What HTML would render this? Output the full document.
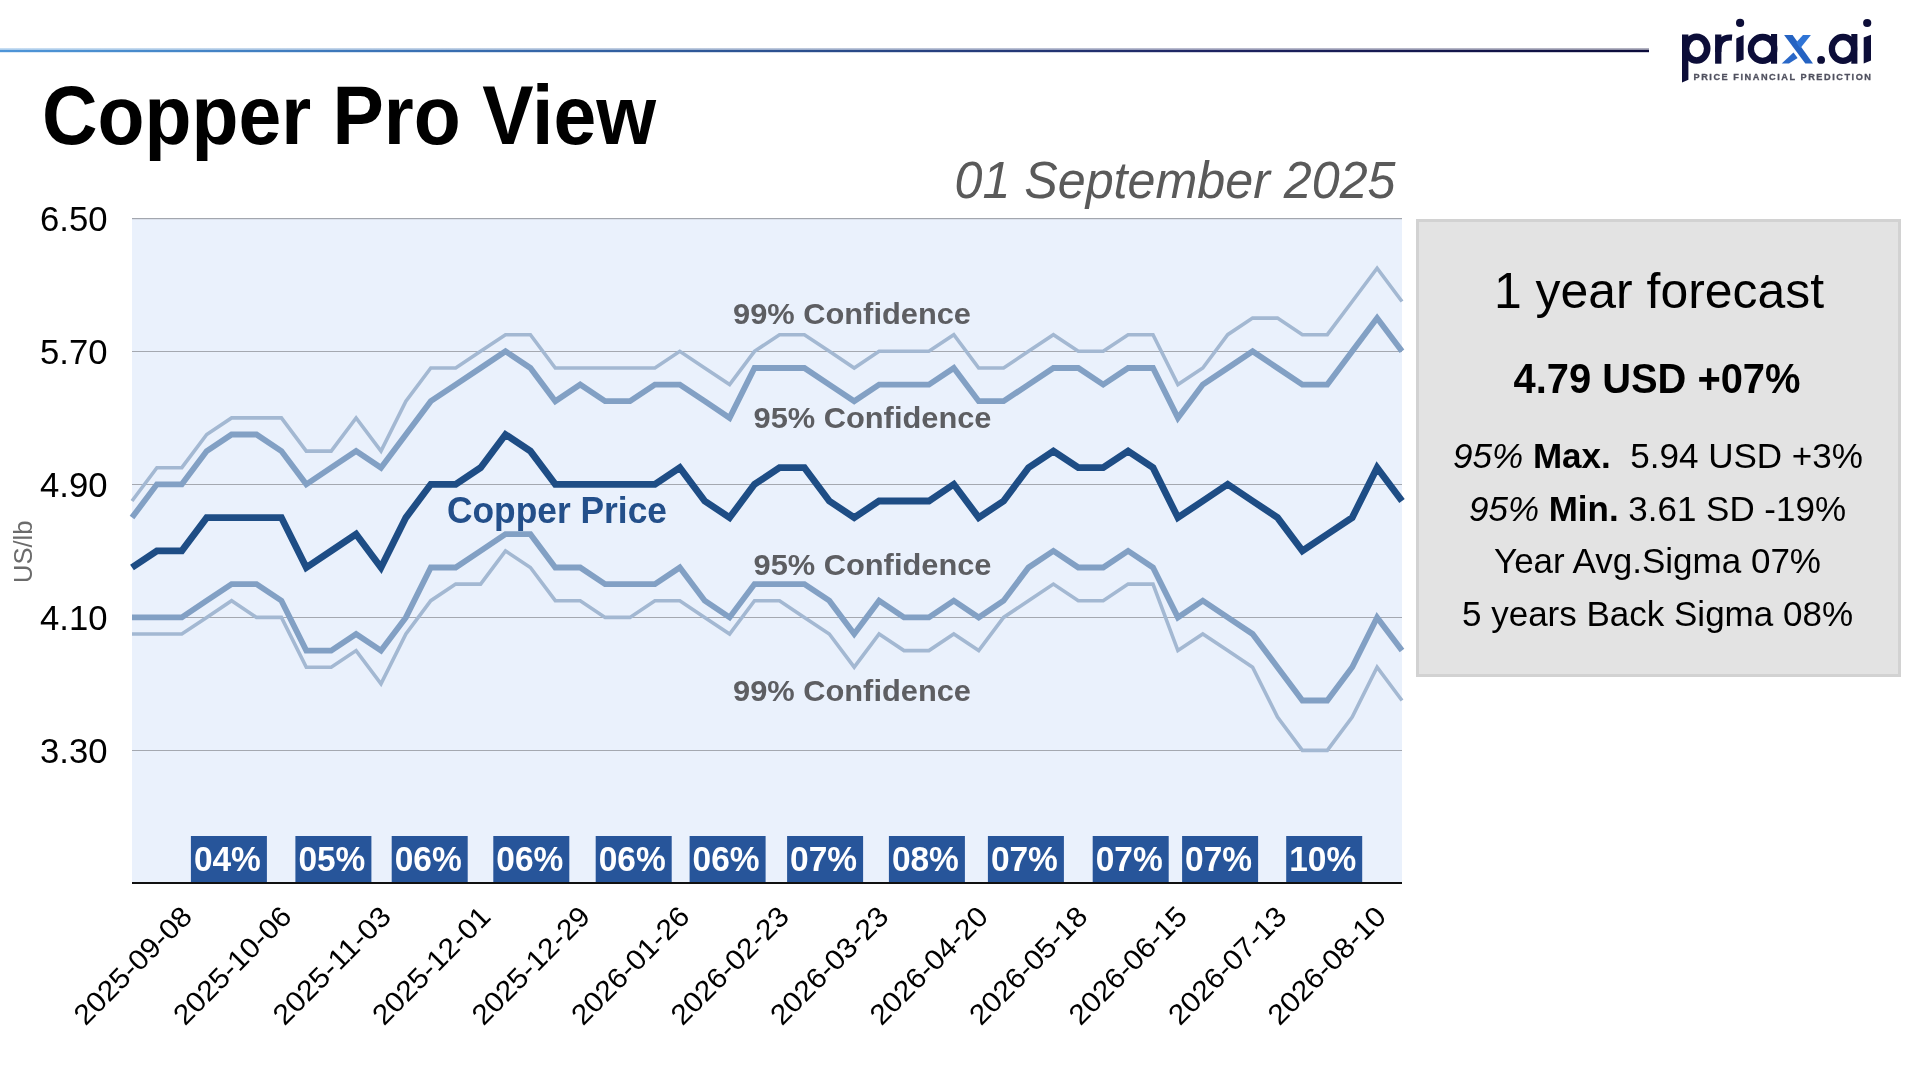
<!DOCTYPE html>
<html><head><meta charset="utf-8"><style>
html,body{margin:0;padding:0;background:#fff;}
body{width:1920px;height:1080px;position:relative;overflow:hidden;}
svg{position:absolute;left:0;top:0;font-family:"Liberation Sans",sans-serif;will-change:transform;}
</style></head><body>
<svg width="1920" height="1080" viewBox="0 0 1920 1080">
<defs><clipPath id="pc"><rect x="132" y="200" width="1270" height="700"/></clipPath><linearGradient id="tg" x1="0" x2="1" y1="0" y2="0"><stop offset="0" stop-color="#4e95d8"/><stop offset="0.06" stop-color="#4a8ecf"/><stop offset="0.24" stop-color="#3a72b5"/><stop offset="0.485" stop-color="#2b4f8e"/><stop offset="0.73" stop-color="#1e2462"/><stop offset="1" stop-color="#0b0b3a"/></linearGradient></defs>
<rect x="0" y="48.3" width="1649" height="1.8" fill="url(#tg)" opacity="0.45"/>
<rect x="0" y="50" width="1649" height="2.2" fill="url(#tg)"/>
<rect x="132" y="218" width="1270" height="665" fill="#eaf1fc"/>
<rect x="132" y="218" width="1270" height="1.2" fill="#a2a6ae"/>
<rect x="132" y="351" width="1270" height="1" fill="#a4a8b0"/>
<rect x="132" y="484" width="1270" height="1" fill="#a4a8b0"/>
<rect x="132" y="617" width="1270" height="1" fill="#a4a8b0"/>
<rect x="132" y="750" width="1270" height="1" fill="#a4a8b0"/>
<polyline points="132.0,501.0 156.9,467.7 181.8,467.7 206.7,434.5 231.6,417.9 256.5,417.9 281.4,417.9 306.3,451.1 331.2,451.1 356.1,417.9 381.0,451.1 405.9,401.2 430.8,368.0 455.7,368.0 480.6,351.3 505.5,334.7 530.4,334.7 555.3,368.0 580.2,368.0 605.1,368.0 630.0,368.0 654.9,368.0 679.8,351.3 704.7,368.0 729.6,384.6 754.5,351.3 779.5,334.7 804.4,334.7 829.3,351.3 854.2,368.0 879.1,351.3 904.0,351.3 928.9,351.3 953.8,334.7 978.7,368.0 1003.6,368.0 1028.5,351.3 1053.4,334.7 1078.3,351.3 1103.2,351.3 1128.1,334.7 1153.0,334.7 1177.9,384.6 1202.8,368.0 1227.7,334.7 1252.6,318.1 1277.5,318.1 1302.4,334.7 1327.3,334.7 1352.2,301.5 1377.1,268.2 1402.0,301.5" fill="none" stroke="#a3b8d2" stroke-width="3.6" stroke-linejoin="miter" stroke-miterlimit="4"/>
<polyline points="132.0,634.0 156.9,634.0 181.8,634.0 206.7,617.4 231.6,600.7 256.5,617.4 281.4,617.4 306.3,667.2 331.2,667.2 356.1,650.6 381.0,683.8 405.9,634.0 430.8,600.7 455.7,584.1 480.6,584.1 505.5,550.9 530.4,567.5 555.3,600.7 580.2,600.7 605.1,617.4 630.0,617.4 654.9,600.7 679.8,600.7 704.7,617.4 729.6,634.0 754.5,600.7 779.5,600.7 804.4,617.4 829.3,634.0 854.2,667.2 879.1,634.0 904.0,650.6 928.9,650.6 953.8,634.0 978.7,650.6 1003.6,617.4 1028.5,600.7 1053.4,584.1 1078.3,600.7 1103.2,600.7 1128.1,584.1 1153.0,584.1 1177.9,650.6 1202.8,634.0 1227.7,650.6 1252.6,667.2 1277.5,717.1 1302.4,750.4 1327.3,750.4 1352.2,717.1 1377.1,667.2 1402.0,700.5" fill="none" stroke="#a3b8d2" stroke-width="3.6" stroke-linejoin="miter" stroke-miterlimit="4"/>
<polyline points="132.0,517.6 156.9,484.3 181.8,484.3 206.7,451.1 231.6,434.5 256.5,434.5 281.4,451.1 306.3,484.3 331.2,467.7 356.1,451.1 381.0,467.7 405.9,434.5 430.8,401.2 455.7,384.6 480.6,368.0 505.5,351.3 530.4,368.0 555.3,401.2 580.2,384.6 605.1,401.2 630.0,401.2 654.9,384.6 679.8,384.6 704.7,401.2 729.6,417.9 754.5,368.0 779.5,368.0 804.4,368.0 829.3,384.6 854.2,401.2 879.1,384.6 904.0,384.6 928.9,384.6 953.8,368.0 978.7,401.2 1003.6,401.2 1028.5,384.6 1053.4,368.0 1078.3,368.0 1103.2,384.6 1128.1,368.0 1153.0,368.0 1177.9,417.9 1202.8,384.6 1227.7,368.0 1252.6,351.3 1277.5,368.0 1302.4,384.6 1327.3,384.6 1352.2,351.3 1377.1,318.1 1402.0,351.3" fill="none" stroke="#82a0c4" stroke-width="5.8" stroke-linejoin="miter" stroke-miterlimit="4"/>
<polyline points="132.0,617.4 156.9,617.4 181.8,617.4 206.7,600.7 231.6,584.1 256.5,584.1 281.4,600.7 306.3,650.6 331.2,650.6 356.1,634.0 381.0,650.6 405.9,617.4 430.8,567.5 455.7,567.5 480.6,550.9 505.5,534.2 530.4,534.2 555.3,567.5 580.2,567.5 605.1,584.1 630.0,584.1 654.9,584.1 679.8,567.5 704.7,600.7 729.6,617.4 754.5,584.1 779.5,584.1 804.4,584.1 829.3,600.7 854.2,634.0 879.1,600.7 904.0,617.4 928.9,617.4 953.8,600.7 978.7,617.4 1003.6,600.7 1028.5,567.5 1053.4,550.9 1078.3,567.5 1103.2,567.5 1128.1,550.9 1153.0,567.5 1177.9,617.4 1202.8,600.7 1227.7,617.4 1252.6,634.0 1277.5,667.2 1302.4,700.5 1327.3,700.5 1352.2,667.2 1377.1,617.4 1402.0,650.6" fill="none" stroke="#82a0c4" stroke-width="5.8" stroke-linejoin="miter" stroke-miterlimit="4"/>
<polyline points="132.0,567.5 156.9,550.9 181.8,550.9 206.7,517.6 231.6,517.6 256.5,517.6 281.4,517.6 306.3,567.5 331.2,550.9 356.1,534.2 381.0,567.5 405.9,517.6 430.8,484.3 455.7,484.3 480.6,467.7 505.5,434.5 530.4,451.1 555.3,484.3 580.2,484.3 605.1,484.3 630.0,484.3 654.9,484.3 679.8,467.7 704.7,501.0 729.6,517.6 754.5,484.3 779.5,467.7 804.4,467.7 829.3,501.0 854.2,517.6 879.1,501.0 904.0,501.0 928.9,501.0 953.8,484.3 978.7,517.6 1003.6,501.0 1028.5,467.7 1053.4,451.1 1078.3,467.7 1103.2,467.7 1128.1,451.1 1153.0,467.7 1177.9,517.6 1202.8,501.0 1227.7,484.3 1252.6,501.0 1277.5,517.6 1302.4,550.9 1327.3,534.2 1352.2,517.6 1377.1,467.7 1402.0,501.0" fill="none" stroke="#1e4d85" stroke-width="6.8" stroke-linejoin="miter" stroke-miterlimit="4"/>
<rect x="132" y="882" width="1270" height="2" fill="#111"/>
<rect x="190.9" y="836" width="76" height="46" fill="#27559a"/>
<text x="193.9" y="871.4" font-size="34.7" font-weight="bold" textLength="67" lengthAdjust="spacingAndGlyphs" fill="#fff">04%</text>
<rect x="295.4" y="836" width="76" height="46" fill="#27559a"/>
<text x="298.4" y="871.4" font-size="34.7" font-weight="bold" textLength="67" lengthAdjust="spacingAndGlyphs" fill="#fff">05%</text>
<rect x="391.7" y="836" width="76" height="46" fill="#27559a"/>
<text x="394.7" y="871.4" font-size="34.7" font-weight="bold" textLength="67" lengthAdjust="spacingAndGlyphs" fill="#fff">06%</text>
<rect x="493.3" y="836" width="76" height="46" fill="#27559a"/>
<text x="496.3" y="871.4" font-size="34.7" font-weight="bold" textLength="67" lengthAdjust="spacingAndGlyphs" fill="#fff">06%</text>
<rect x="595.7" y="836" width="76" height="46" fill="#27559a"/>
<text x="598.7" y="871.4" font-size="34.7" font-weight="bold" textLength="67" lengthAdjust="spacingAndGlyphs" fill="#fff">06%</text>
<rect x="689.6" y="836" width="76" height="46" fill="#27559a"/>
<text x="692.6" y="871.4" font-size="34.7" font-weight="bold" textLength="67" lengthAdjust="spacingAndGlyphs" fill="#fff">06%</text>
<rect x="787.1" y="836" width="76" height="46" fill="#27559a"/>
<text x="790.1" y="871.4" font-size="34.7" font-weight="bold" textLength="67" lengthAdjust="spacingAndGlyphs" fill="#fff">07%</text>
<rect x="888.9" y="836" width="76" height="46" fill="#27559a"/>
<text x="891.9" y="871.4" font-size="34.7" font-weight="bold" textLength="67" lengthAdjust="spacingAndGlyphs" fill="#fff">08%</text>
<rect x="987.9" y="836" width="76" height="46" fill="#27559a"/>
<text x="990.9" y="871.4" font-size="34.7" font-weight="bold" textLength="67" lengthAdjust="spacingAndGlyphs" fill="#fff">07%</text>
<rect x="1092.7" y="836" width="76" height="46" fill="#27559a"/>
<text x="1095.7" y="871.4" font-size="34.7" font-weight="bold" textLength="67" lengthAdjust="spacingAndGlyphs" fill="#fff">07%</text>
<rect x="1182.1" y="836" width="76" height="46" fill="#27559a"/>
<text x="1185.1" y="871.4" font-size="34.7" font-weight="bold" textLength="67" lengthAdjust="spacingAndGlyphs" fill="#fff">07%</text>
<rect x="1286.2" y="836" width="76" height="46" fill="#27559a"/>
<text x="1289.2" y="871.4" font-size="34.7" font-weight="bold" textLength="67" lengthAdjust="spacingAndGlyphs" fill="#fff">10%</text>
<text x="733" y="323.8" font-size="30" textLength="238" lengthAdjust="spacingAndGlyphs" font-weight="bold" fill="#5d5e62" >99% Confidence</text>
<text x="753.5" y="428.3" font-size="30" textLength="238" lengthAdjust="spacingAndGlyphs" font-weight="bold" fill="#5d5e62" >95% Confidence</text>
<text x="447" y="522.7" font-size="36" textLength="220" lengthAdjust="spacingAndGlyphs" font-weight="bold" fill="#234f8a" >Copper Price</text>
<text x="753.5" y="575" font-size="30" textLength="238" lengthAdjust="spacingAndGlyphs" font-weight="bold" fill="#5d5e62" >95% Confidence</text>
<text x="733" y="700.8" font-size="30" textLength="238" lengthAdjust="spacingAndGlyphs" font-weight="bold" fill="#5d5e62" >99% Confidence</text>
<text x="40" y="230.5" font-size="34.5" textLength="67.5" lengthAdjust="spacingAndGlyphs" fill="#000">6.50</text>
<text x="40" y="363.5" font-size="34.5" textLength="67.5" lengthAdjust="spacingAndGlyphs" fill="#000">5.70</text>
<text x="40" y="496.5" font-size="34.5" textLength="67.5" lengthAdjust="spacingAndGlyphs" fill="#000">4.90</text>
<text x="40" y="629.5" font-size="34.5" textLength="67.5" lengthAdjust="spacingAndGlyphs" fill="#000">4.10</text>
<text x="40" y="762.5" font-size="34.5" textLength="67.5" lengthAdjust="spacingAndGlyphs" fill="#000">3.30</text>
<text transform="translate(31.5,583) rotate(-90)" font-size="25" textLength="62.5" lengthAdjust="spacingAndGlyphs" fill="#6b6b6b">US/lb</text>
<text transform="translate(85.50,1026.5) rotate(-45)" font-size="28.5" textLength="153" lengthAdjust="spacingAndGlyphs" fill="#000">2025-09-08</text>
<text transform="translate(185.00,1026.5) rotate(-45)" font-size="28.5" textLength="153" lengthAdjust="spacingAndGlyphs" fill="#000">2025-10-06</text>
<text transform="translate(284.50,1026.5) rotate(-45)" font-size="28.5" textLength="153" lengthAdjust="spacingAndGlyphs" fill="#000">2025-11-03</text>
<text transform="translate(384.00,1026.5) rotate(-45)" font-size="28.5" textLength="153" lengthAdjust="spacingAndGlyphs" fill="#000">2025-12-01</text>
<text transform="translate(483.50,1026.5) rotate(-45)" font-size="28.5" textLength="153" lengthAdjust="spacingAndGlyphs" fill="#000">2025-12-29</text>
<text transform="translate(583.00,1026.5) rotate(-45)" font-size="28.5" textLength="153" lengthAdjust="spacingAndGlyphs" fill="#000">2026-01-26</text>
<text transform="translate(682.50,1026.5) rotate(-45)" font-size="28.5" textLength="153" lengthAdjust="spacingAndGlyphs" fill="#000">2026-02-23</text>
<text transform="translate(782.00,1026.5) rotate(-45)" font-size="28.5" textLength="153" lengthAdjust="spacingAndGlyphs" fill="#000">2026-03-23</text>
<text transform="translate(881.50,1026.5) rotate(-45)" font-size="28.5" textLength="153" lengthAdjust="spacingAndGlyphs" fill="#000">2026-04-20</text>
<text transform="translate(981.00,1026.5) rotate(-45)" font-size="28.5" textLength="153" lengthAdjust="spacingAndGlyphs" fill="#000">2026-05-18</text>
<text transform="translate(1080.50,1026.5) rotate(-45)" font-size="28.5" textLength="153" lengthAdjust="spacingAndGlyphs" fill="#000">2026-06-15</text>
<text transform="translate(1180.00,1026.5) rotate(-45)" font-size="28.5" textLength="153" lengthAdjust="spacingAndGlyphs" fill="#000">2026-07-13</text>
<text transform="translate(1279.50,1026.5) rotate(-45)" font-size="28.5" textLength="153" lengthAdjust="spacingAndGlyphs" fill="#000">2026-08-10</text>
<text x="42" y="144" font-size="83" textLength="614" lengthAdjust="spacingAndGlyphs" font-weight="bold" fill="#000" >Copper Pro View</text>
<text x="954.5" y="197.5" font-size="52" textLength="441" lengthAdjust="spacingAndGlyphs" font-style="italic" fill="#5a5a5a" >01 September 2025</text>
<rect x="1417.5" y="220.5" width="482" height="455" fill="#e3e3e3" stroke="#d2d2d2" stroke-width="3"/>
<text x="1494" y="308.2" font-size="49.5" textLength="330" lengthAdjust="spacingAndGlyphs" fill="#000" >1 year forecast</text>
<text x="1513.5" y="393.2" font-size="42.5" textLength="287" lengthAdjust="spacingAndGlyphs" font-weight="bold" fill="#000" >4.79 USD +07%</text>
<text x="1453" y="467.8" font-size="35" textLength="410" lengthAdjust="spacingAndGlyphs" fill="#000" ><tspan font-style="italic">95%</tspan> <tspan font-weight="bold">Max.</tspan>  5.94 USD +3%</text>
<text x="1469" y="520.5" font-size="35" textLength="377" lengthAdjust="spacingAndGlyphs" fill="#000" ><tspan font-style="italic">95%</tspan> <tspan font-weight="bold">Min.</tspan> 3.61 SD -19%</text>
<text x="1494" y="573.2" font-size="35" textLength="327" lengthAdjust="spacingAndGlyphs" fill="#000" >Year Avg.Sigma 07%</text>
<text x="1462" y="626" font-size="35" textLength="391" lengthAdjust="spacingAndGlyphs" fill="#000" >5 years Back Sigma 08%</text>
<g fill="#0c0d38">
<path d="M1682,34.5 L1688.4,34.5 L1688.4,79.8 L1682,82.4 Z"/>
<ellipse cx="1696.6" cy="48.6" rx="10.6" ry="11.9" fill="none" stroke="#0c0d38" stroke-width="6.6"/>
<rect x="1715.1" y="34.5" width="6.3" height="29.2"/>
<path d="M1718.3,52 C1718.3,41 1723,36.8 1732,37.6" fill="none" stroke="#0c0d38" stroke-width="6.2"/>
<path d="M1736.3,38.5 L1743.6,35 L1743.6,59.5 L1736.3,62.5 Z"/>
<circle cx="1740.1" cy="22.9" r="4.1"/>
<ellipse cx="1762.6" cy="48.9" rx="11.7" ry="11.9" fill="none" stroke="#0c0d38" stroke-width="6.3"/>
<rect x="1771" y="34" width="6.1" height="29.7"/>
<circle cx="1821.1" cy="59.9" r="3.9"/>
<ellipse cx="1843" cy="48.9" rx="11.1" ry="11.9" fill="none" stroke="#0c0d38" stroke-width="6.3"/>
<rect x="1851.3" y="34" width="6.1" height="29.7"/>
<path d="M1863.7,37.5 L1871,34.8 L1871,60.5 L1863.7,63.4 Z"/>
<circle cx="1867.2" cy="23" r="4.1"/>
</g>
<path d="M1784.1,34.9 L1792.6,34.9 L1813,63.4 L1805.3,63.4 Z" fill="#2563c2"/>
<path d="M1803,34.9 L1810.9,34.9 L1800.3,48.2 L1796.2,42.6 Z" fill="#2f74d6"/>
<path d="M1793.5,52.5 L1797.6,58 L1789,63.4 L1781.7,63.4 Z" fill="#2a68c8"/>
<text x="1693.5" y="80" font-size="9.2" font-weight="bold" fill="#50515f" stroke="#50515f" stroke-width="0.3" textLength="177.5" lengthAdjust="spacing">PRICE FINANCIAL PREDICTION</text>
</svg>
</body></html>
